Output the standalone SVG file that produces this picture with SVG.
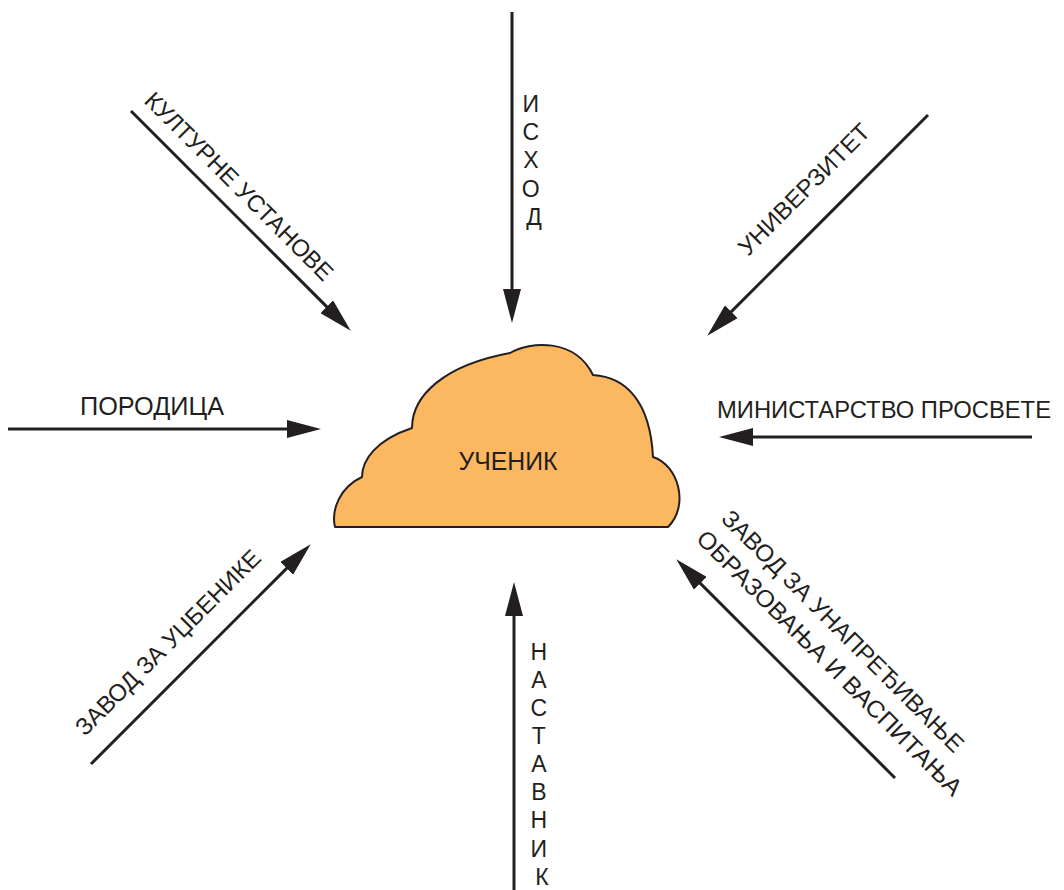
<svg xmlns="http://www.w3.org/2000/svg" width="1064" height="890" viewBox="0 0 1064 890">
<style>
  .t { font-family: "Liberation Sans", Arial, sans-serif; font-size: 24px; fill: #231F20; }
  .c { text-anchor: middle; }
  .ln { stroke: #231F20; stroke-width: 3; fill: none; marker-end: url(#ah); }
</style>
<defs>
  <marker id="ah" markerUnits="userSpaceOnUse" markerWidth="34" markerHeight="18" viewBox="0 0 34 18" refX="1" refY="9" orient="auto">
    <path d="M0,0 L34,9 L0,18 Z" fill="#231F20"/>
  </marker>
</defs>
<rect width="1064" height="890" fill="#FFFFFF"/>

<g id="connectors">
  <line class="ln" x1="8" y1="429" x2="288" y2="429"/>
  <line class="ln" x1="1032" y1="437" x2="752" y2="437"/>
  <line class="ln" x1="512" y1="12" x2="512" y2="290"/>
  <line class="ln" x1="514" y1="890" x2="514" y2="615"/>
  <line class="ln" x1="131" y1="111" x2="327.4" y2="307.4"/>
  <line class="ln" x1="928" y1="115" x2="730.6" y2="312.4"/>
  <line class="ln" x1="91" y1="764" x2="287.4" y2="567.6"/>
  <line class="ln" x1="895" y1="778" x2="699.6" y2="582.6"/>
</g>

<g id="ucenik">
  <path d="M335,527 C331,510 340,487 362,477 C362,460 376,440 412,428 C412,395 445,365 510,353 C530,341 575,338 593,375 C625,377 650,400 653,457 C678,465 690,505 668,527 Z" fill="#FBB860" stroke="#231F20" stroke-width="2" stroke-linejoin="round"/>
  <text class="t c" x="508" y="470" style="font-size:25px" textLength="99" lengthAdjust="spacingAndGlyphs">УЧЕНИК</text>
</g>

<g id="porodica">
  <text class="t" x="80" y="415" style="font-size:25px" textLength="144" lengthAdjust="spacingAndGlyphs">ПОРОДИЦА</text>
</g>

<g id="ministarstvo">
  <text class="t" x="717" y="418" textLength="334" lengthAdjust="spacingAndGlyphs">МИНИСТАРСТВО ПРОСВЕТЕ</text>
</g>

<g id="ishod">
  <text class="t c" style="font-size:23px">
    <tspan x="534" y="112">И</tspan>
    <tspan x="534" y="140">С</tspan>
    <tspan x="534" y="168">Х</tspan>
    <tspan x="534" y="197">О</tspan>
    <tspan x="534" y="225">Д</tspan>
  </text>
</g>

<g id="nastavnik">
  <text class="t c" style="font-size:23px">
    <tspan x="542" y="660">Н</tspan>
    <tspan x="542" y="688">А</tspan>
    <tspan x="542" y="716">С</tspan>
    <tspan x="542" y="744">Т</tspan>
    <tspan x="542" y="772">А</tspan>
    <tspan x="542" y="800">В</tspan>
    <tspan x="542" y="828">Н</tspan>
    <tspan x="542" y="857">И</tspan>
    <tspan x="542" y="885">К</tspan>
  </text>
</g>

<g id="kulturne">
  <text class="t" transform="translate(143,102) rotate(45)" x="0" y="0" textLength="255" lengthAdjust="spacingAndGlyphs">КУЛТУРНЕ УСТАНОВЕ</text>
</g>

<g id="univerzitet">
  <text class="t" transform="translate(748,257) rotate(-45)" x="0" y="0" textLength="175" lengthAdjust="spacingAndGlyphs">УНИВЕРЗИТЕТ</text>
</g>

<g id="zavod-udzbenike">
  <text class="t" transform="translate(85,737) rotate(-45)" x="0" y="0" textLength="251" lengthAdjust="spacingAndGlyphs">ЗАВОД ЗА УЏБЕНИКЕ</text>
</g>

<g id="zavod-unapredjivanje">
  <text class="t" transform="translate(720,520) rotate(45)" x="0" y="0" textLength="331" lengthAdjust="spacingAndGlyphs">ЗАВОД ЗА УНАПРЕЂИВАЊЕ</text>
  <text class="t" transform="translate(695,540) rotate(45)" x="0" y="0" textLength="364" lengthAdjust="spacingAndGlyphs">ОБРАЗОВАЊА И ВАСПИТАЊА</text>
</g>
</svg>
